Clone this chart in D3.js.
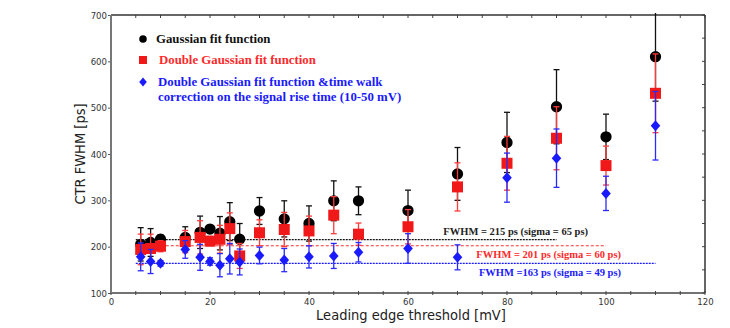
<!DOCTYPE html>
<html><head><meta charset="utf-8">
<script src="https://cdn.jsdelivr.net/npm/d3@7"></script>
<style>body{margin:0;background:#fff;}svg{display:block;}</style>
</head><body><svg id="c" width="730" height="328"></svg>
<script>
const thresholds = [6,8,10,15,18,20,22,24,26,30,35,40,45,50,60,70,80,90,100,110];
const gaussVals  = [205,209,216,220,231,238,229,254,216,277,260,250,299,299,278,357,425,502,437,610];
const gaussErr   = [36,30,10,23,35,8,36,41,34,29,39,38,43,30,44,57,65,80,49,96];
const dgVals     = [194,196,201,211,220,212,216,239,180,230,237,234,268,227,243,329,380,434,375,531];
const dgErr      = [33,31,12,24,36,10,30,34,27,28,37,32,40,24,37,52,58,68,42,85];
const twVals     = [178,168,164,194,177,168,160,174,167,181,171,178,180,188,196,177,349,391,315,461];
const twErr      = [30,26,6,19,28,8,25,33,28,18,25,24,27,21,32,27,53,63,37,74];
const xTicks = [0,20,40,60,80,100,120];
const yTicks = [100,200,300,400,500,600,700];
const refLines = [
  {v:215, x0:5, x1:90, label:"FWHM = 215 ps (sigma = 65 ps)"},
  {v:202, x0:5, x1:100, label:"FWHM = 201 ps (sigma = 60 ps)"},
  {v:164, x0:5, x1:110, label:"FWHM =163 ps (sigma = 49 ps)"}
];
const legendLabels = ["Gaussian fit function","Double Gaussian fit function",
  ["Double Gaussian fit function &time walk","correction on the signal rise time (10-50 mV)"]];

const svg = d3.select("#c");
const L=111,R=705,T=15,B=293;
const x = d3.scaleLinear().domain([0,120]).range([L,R]);
const y = d3.scaleLinear().domain([100,700]).range([B,T]);
const tickFont = "'DejaVu Sans Condensed','DejaVu Sans',sans-serif";
const serif = "'Liberation Serif','DejaVu Serif',serif";
const cBlack="#000", cRed="#f01818", cBlue="#1a1aff";
const eRed="#ff3a3a", eBlue="#2a2aff";

svg.append("clipPath").attr("id","pc").append("rect").attr("x",L).attr("y",T-2).attr("width",R-L).attr("height",B-T+2);

const gx = svg.append("g").attr("transform",`translate(0,${B})`)
  .call(d3.axisBottom(x).tickValues(xTicks).tickSize(0).tickPadding(5).tickFormat(d3.format("d")));
const gy = svg.append("g").attr("transform",`translate(${L},0)`)
  .call(d3.axisLeft(y).tickValues(yTicks).tickSize(3).tickPadding(1).tickFormat(d3.format("d")));
[gx,gy].forEach(g=>{
  g.select(".domain").remove();
  g.selectAll("text").attr("font-family",tickFont).attr("font-size",9.5).attr("fill","#333");
  g.selectAll("line").attr("stroke","#555");
});
gy.selectAll("text").attr("dy","0.35em");
const minorX = d3.range(0,121,5);
svg.append("g").selectAll("line").data(minorX).join("line")
  .attr("x1",d=>x(d)).attr("x2",d=>x(d)).attr("y1",B-2).attr("y2",B+2).attr("stroke","#444").attr("stroke-width",1);
svg.append("g").selectAll("line").data(minorX).join("line")
  .attr("x1",d=>x(d)).attr("x2",d=>x(d)).attr("y1",T).attr("y2",T+3).attr("stroke","#444").attr("stroke-width",1);
const minorY = d3.range(100,701,50);
svg.append("g").selectAll("line").data(minorY).join("line")
  .attr("x1",R-3).attr("x2",R).attr("y1",d=>y(d)).attr("y2",d=>y(d)).attr("stroke","#444").attr("stroke-width",1);
svg.append("line").attr("x1",L).attr("x2",R).attr("y1",T).attr("y2",T).attr("stroke","#333").attr("stroke-width",1.5);
svg.append("line").attr("x1",R).attr("x2",R).attr("y1",T).attr("y2",B).attr("stroke","#333").attr("stroke-width",1.5);
svg.append("line").attr("x1",L).attr("x2",R).attr("y1",B).attr("y2",B).attr("stroke","#444").attr("stroke-width",1.5);
svg.append("line").attr("x1",L).attr("x2",L).attr("y1",T).attr("y2",B).attr("stroke","#777").attr("stroke-width",2);

svg.append("text").attr("x",411).attr("y",320).attr("text-anchor","middle")
  .attr("font-family",tickFont).attr("font-size",14.5).attr("fill","#222").text("Leading edge threshold [mV]");
svg.append("text").attr("transform","translate(85,154) rotate(-90)").attr("text-anchor","middle")
  .attr("font-family",tickFont).attr("font-size",14.5).attr("fill","#222").text("CTR FWHM [ps]");

const refStyles=[{c:"#111",d:"2,1"},{c:"#ff3030",d:"3,2"},{c:"#1a1aff",d:"2,1"}];
const labelPos=[{x:588,y:231.5,c:"#222"},{x:621,y:254,c:"#ff2a2a"},{x:621,y:272.5,c:"#1a1aff"}];
refLines.forEach((r,i)=>{
  svg.append("line").attr("x1",x(r.x0)).attr("x2",x(r.x1)).attr("y1",y(r.v)).attr("y2",y(r.v))
    .attr("stroke",refStyles[i].c).attr("stroke-width",1.2).attr("stroke-dasharray",refStyles[i].d);
  svg.append("text").attr("x",labelPos[i].x).attr("y",labelPos[i].y).attr("dy","0.35em").attr("text-anchor","end")
    .attr("font-family",serif).attr("font-weight","bold").attr("font-size",10.5).attr("fill",labelPos[i].c).text(r.label);
});

const plot = svg.append("g").attr("clip-path","url(#pc)");
function series(vals, errs, ecol, col, shape){
  const g = plot.append("g");
  const data = thresholds.map((t,i)=>({t,v:vals[i],e:errs[i]}));
  g.selectAll("line.eb").data(data).join("line").attr("class","eb")
    .attr("x1",d=>x(d.t)).attr("x2",d=>x(d.t))
    .attr("y1",d=>y(d.v-d.e)).attr("y2",d=>y(d.v+d.e)).attr("stroke",ecol).attr("stroke-width",1.3);
  [["capLo",-1],["capHi",1]].forEach(([cls,s])=>{
    g.selectAll("line."+cls).data(data).join("line").attr("class",cls)
      .attr("x1",d=>x(d.t)-3).attr("x2",d=>x(d.t)+3)
      .attr("y1",d=>y(d.v+s*d.e)).attr("y2",d=>y(d.v+s*d.e))
      .attr("stroke",ecol).attr("stroke-width",1.3);
  });
  g.selectAll("path.pt").data(data).join("path").attr("class","pt")
    .attr("transform",d=>`translate(${x(d.t)},${y(d.v)})`)
    .attr("d",shape).attr("fill",col);
}
const circ = d3.symbol(d3.symbolCircle, 100)();
const sq = "M-5.5,-5.5H5.5V5.5H-5.5Z";
const dia = "M0,-5.5L4.8,0L0,5.5L-4.8,0Z";
series(gaussVals,gaussErr,"#111",cBlack,circ);
series(dgVals,dgErr,eRed,cRed,sq);
series(twVals,twErr,eBlue,cBlue,dia);

const lg = svg.append("g");
lg.append("path").attr("transform","translate(143,39)").attr("d",d3.symbol(d3.symbolCircle,45)()).attr("fill",cBlack);
lg.append("path").attr("transform","translate(143,60)").attr("d","M-4,-4H4V4H-4Z").attr("fill",cRed);
lg.append("path").attr("transform","translate(143,82)").attr("d","M0,-4.5L3.8,0L0,4.5L-3.8,0Z").attr("fill",cBlue);
const lt = (tx,ty,col,s)=>lg.append("text").attr("x",tx).attr("y",ty).attr("dy","0.35em")
  .attr("font-family",serif).attr("font-weight","bold").attr("font-size",12.8).attr("fill",col).text(s);
lt(156,38.5,"#111",legendLabels[0]);
lt(159,59.5,"#ff2a2a",legendLabels[1]);
lt(158,81.5,"#1a1aff",legendLabels[2][0]);
lt(158,96.5,"#1a1aff",legendLabels[2][1]);
</script></body></html>
